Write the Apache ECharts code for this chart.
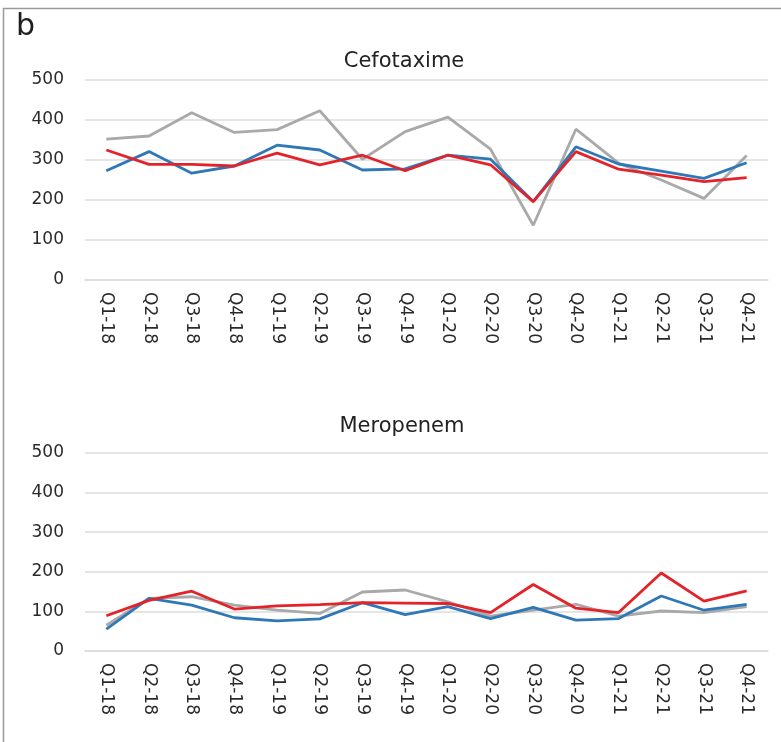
<!DOCTYPE html>
<html>
<head>
<meta charset="utf-8">
<script src="https://cdn.jsdelivr.net/npm/echarts@6/dist/echarts.min.js"></script>
<style>
  html, body { margin: 0; padding: 0; background: #fff; }
  #chart { width: 781px; height: 742px; }
</style>
</head>
<body>
<div id="chart"></div>
<script>
// Quarterly consumption, 2018–2021
const quarters = ['Q1-18','Q2-18','Q3-18','Q4-18','Q1-19','Q2-19','Q3-19','Q4-19',
                  'Q1-20','Q2-20','Q3-20','Q4-20','Q1-21','Q2-21','Q3-21','Q4-21'];
const yTicks = [0, 100, 200, 300, 400, 500];

// Cefotaxime
const cefoGray = [352, 360, 418, 369, 376, 423, 302, 371, 407, 327, 137, 377, 292, 250, 204, 311];
const cefoBlue = [273, 321, 267, 285, 337, 325, 275, 278, 312, 302, 196, 333, 290, 272, 254, 293];
const cefoRed  = [325, 289, 289, 285, 317, 288, 312, 273, 312, 288, 196, 321, 277, 262, 246, 256];

// Meropenem
const meroGray = [65, 133, 137, 116, 103, 95, 149, 154, 124, 88, 103, 118, 88, 101, 97, 112];
const meroBlue = [55, 133, 116, 84, 76, 81, 122, 92, 112, 82, 110, 78, 82, 139, 103, 118];
const meroRed  = [89, 128, 151, 106, 114, 117, 122, 121, 120, 97, 168, 108, 97, 197, 126, 152];

const FONT = 'DejaVu Sans';
const TEXT = '#2a2a2a';
const GRIDC = '#dcdcdc';
const GRAY = '#a9a9a9', BLUE = '#2f78b7', RED = '#e3232a';

const chart = echarts.init(document.getElementById('chart'), null, { renderer: 'canvas' });

function xAxis(gridIndex) {
  return {
    type: 'category', gridIndex, data: quarters, boundaryGap: true,
    axisLine: { lineStyle: { color: GRIDC, width: 1.5 } },
    axisTick: { show: false },
    axisLabel: { rotate: -90, margin: 12, fontFamily: FONT, fontSize: 17, color: TEXT }
  };
}
function yAxis(gridIndex) {
  return {
    type: 'value', gridIndex, min: yTicks[0], max: yTicks[yTicks.length - 1], interval: 100,
    axisLine: { show: false }, axisTick: { show: false },
    splitLine: { lineStyle: { color: GRIDC, width: 1.5 } },
    axisLabel: { margin: 21, fontFamily: FONT, fontSize: 17, color: TEXT }
  };
}
function line(data, color, idx, z) {
  return {
    type: 'line', data, xAxisIndex: idx, yAxisIndex: idx, z,
    symbol: 'none', smooth: false, animation: false,
    lineStyle: { color, width: 2.8 }
  };
}

chart.setOption({
  backgroundColor: '#fff',
  animation: false,
  title: [
    { text: 'Cefotaxime', left: 399, top: 46, textAlign: 'center',
      textStyle: { fontFamily: FONT, fontSize: 21, fontWeight: 'normal', color: '#222' } },
    { text: 'Meropenem', left: 397, top: 411, textAlign: 'center',
      textStyle: { fontFamily: FONT, fontSize: 21, fontWeight: 'normal', color: '#222' } }
  ],
  grid: [
    { left: 85, right: 13, top: 80, height: 200 },
    { left: 85, right: 13, top: 453, height: 198 }
  ],
  xAxis: [xAxis(0), xAxis(1)],
  yAxis: [yAxis(0), yAxis(1)],
  series: [
    line(cefoGray, GRAY, 0, 2), line(cefoBlue, BLUE, 0, 3), line(cefoRed, RED, 0, 4),
    line(meroGray, GRAY, 1, 2), line(meroBlue, BLUE, 1, 3), line(meroRed, RED, 1, 4)
  ],
  graphic: [
    { type: 'line', shape: { x1: 3, y1: 8.5, x2: 781, y2: 8.5 }, style: { stroke: '#9a9a9a', lineWidth: 1.5 } },
    { type: 'line', shape: { x1: 3.5, y1: 8, x2: 3.5, y2: 742 }, style: { stroke: '#9a9a9a', lineWidth: 1.5 } },
    { type: 'text', left: 16, top: 12,
      style: { text: 'b', fontFamily: FONT, fontSize: 30, fill: '#1e1e1e' } }
  ]
});
</script>
</body>
</html>
